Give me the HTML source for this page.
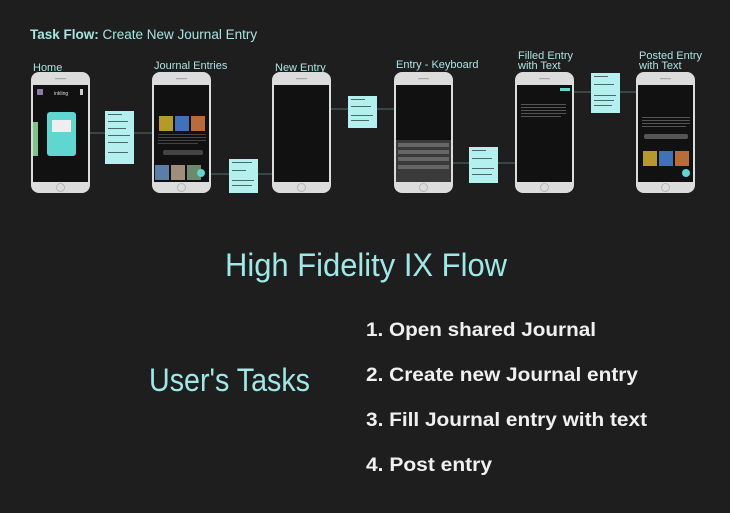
<!DOCTYPE html>
<html><head><meta charset="utf-8"><style>
html,body{margin:0;padding:0;background:#1e1e1e;}
svg{display:block}
</style></head><body>
<svg width="730" height="513" viewBox="0 0 730 513" xmlns="http://www.w3.org/2000/svg" font-family="Liberation Sans, sans-serif">
<defs>
<g id="ph">
<rect x="0" y="0" width="59" height="121" rx="8" fill="#dcdcdc"/>
<rect x="2" y="13" width="55" height="97" fill="#111"/>
<circle cx="29.5" cy="115.5" r="4" fill="none" stroke="#b0b0b0" stroke-width="0.8"/>
<rect x="24" y="6" width="11" height="1.2" fill="#aaa"/>
</g>
</defs>
<rect width="730" height="513" fill="#1e1e1e"/>
<text x="30" y="39" font-size="13.5" fill="#a8e4e2"><tspan font-weight="bold">Task Flow:</tspan> Create New Journal Entry</text>
<g font-size="11" fill="#a8e4e2">
<text x="33" y="71">Home</text>
<text x="154" y="69">Journal Entries</text>
<text x="275" y="71">New Entry</text>
<text x="396" y="68">Entry - Keyboard</text>
<text x="518" y="59">Filled Entry</text><text x="518" y="69">with Text</text>
<text x="639" y="59">Posted Entry</text><text x="639" y="69">with Text</text>
</g>
<g stroke="#52706f" stroke-width="1" fill="none">
<line x1="76" y1="133" x2="152" y2="133"/>
<line x1="205" y1="174" x2="272" y2="174"/>
<line x1="292" y1="109" x2="394" y2="109"/>
<line x1="420" y1="163" x2="515" y2="163"/>
<line x1="570" y1="92" x2="636" y2="92"/>
</g>
<use href="#ph" x="31" y="72"/>
<use href="#ph" x="152" y="72"/>
<use href="#ph" x="272" y="72"/>
<use href="#ph" x="394" y="72"/>
<use href="#ph" x="515" y="72"/>
<use href="#ph" x="636" y="72"/>
<rect x="47" y="112" width="29" height="44" rx="3" fill="#5fd6cf"/>
<rect x="52" y="120" width="19" height="12" fill="#eee"/>
<rect x="33" y="122" width="5" height="34" fill="#7bc48a"/>
<rect x="37" y="89" width="6" height="6" fill="#8a7aa8"/>
<text x="54" y="95" font-size="5" fill="#ddd">inkling</text>
<rect x="80" y="89" width="3" height="6" fill="#ccc"/>
<g fill="#444">
<rect x="159" y="116" width="14" height="15" fill="#b59a2a"/><rect x="175" y="116" width="14" height="15" fill="#3f72b8"/><rect x="191" y="116" width="14" height="15" fill="#b76c3a"/>
<rect x="158" y="134" width="48" height="1"/><rect x="158" y="137" width="48" height="1"/><rect x="158" y="140" width="48" height="1"/><rect x="158" y="143" width="40" height="1"/>
<rect x="163" y="150" width="40" height="5" rx="2"/>
<rect x="155" y="165" width="14" height="15" fill="#5a7ea8"/><rect x="171" y="165" width="14" height="15" fill="#a08d7a"/><rect x="187" y="165" width="14" height="15" fill="#6e8a6a"/>
</g>
<circle cx="201" cy="173" r="4" fill="#5fd6cf"/>
<rect x="396" y="140" width="55" height="42" fill="#3a3a3a"/>
<g fill="#666"><rect x="398" y="143" width="51" height="4"/><rect x="398" y="150" width="51" height="4"/><rect x="398" y="157" width="51" height="4"/><rect x="398" y="165" width="51" height="4"/></g>
<g fill="#555"><rect x="521" y="104" width="45" height="1"/><rect x="521" y="107" width="45" height="1"/><rect x="521" y="110" width="45" height="1"/><rect x="521" y="113" width="45" height="1"/><rect x="521" y="116" width="40" height="1"/></g>
<rect x="560" y="88" width="10" height="3" fill="#5fd6cf"/>
<g fill="#555"><rect x="642" y="117" width="48" height="1"/><rect x="642" y="120" width="48" height="1"/><rect x="642" y="123" width="48" height="1"/><rect x="642" y="126" width="44" height="1"/><rect x="644" y="134" width="44" height="5" rx="2"/></g>
<rect x="643" y="151" width="14" height="15" fill="#b59a2a"/><rect x="659" y="151" width="14" height="15" fill="#3f72b8"/><rect x="675" y="151" width="14" height="15" fill="#b76c3a"/>
<circle cx="686" cy="173" r="4" fill="#5fd6cf"/>
<g fill="#b3f0ee">
<rect x="105" y="111" width="29" height="53"/>
<rect x="229" y="159" width="29" height="34"/>
<rect x="348" y="96" width="29" height="32"/>
<rect x="469" y="147" width="29" height="36"/>
<rect x="591" y="73" width="29" height="40"/>
</g>
<g fill="#4a6a6a">
<rect x="108" y="114" width="14" height="1"/><rect x="108" y="121" width="20" height="1"/><rect x="108" y="128" width="18" height="1"/><rect x="108" y="135" width="22" height="1"/><rect x="108" y="142" width="20" height="1"/><rect x="108" y="152" width="20" height="1"/>
<rect x="232" y="162" width="20" height="1"/><rect x="232" y="170" width="14" height="1"/><rect x="232" y="180" width="22" height="1"/><rect x="232" y="185" width="20" height="1"/>
<rect x="351" y="99" width="14" height="1"/><rect x="351" y="106" width="20" height="1"/><rect x="351" y="115" width="22" height="1"/><rect x="351" y="120" width="18" height="1"/>
<rect x="472" y="150" width="14" height="1"/><rect x="472" y="158" width="20" height="1"/><rect x="472" y="168" width="22" height="1"/><rect x="472" y="174" width="20" height="1"/>
<rect x="594" y="76" width="14" height="1"/><rect x="594" y="84" width="20" height="1"/><rect x="594" y="95" width="22" height="1"/><rect x="594" y="100" width="20" height="1"/><rect x="594" y="105" width="18" height="1"/>
</g>
<text x="225" y="276" font-size="32" fill="#9ee8e6" textLength="282" lengthAdjust="spacingAndGlyphs" font-family="Liberation Sans Narrow, Liberation Sans, sans-serif">High Fidelity IX Flow</text>
<text x="149" y="391" font-size="32" fill="#9ee8e6" textLength="161" lengthAdjust="spacingAndGlyphs" font-family="Liberation Sans Narrow, Liberation Sans, sans-serif">User's Tasks</text>
<g font-size="19" fill="#f0f0f0" font-weight="bold">
<text x="366" y="336" textLength="230" lengthAdjust="spacingAndGlyphs">1. Open shared Journal</text>
<text x="366" y="381" textLength="272" lengthAdjust="spacingAndGlyphs">2. Create new Journal entry</text>
<text x="366" y="426" textLength="281" lengthAdjust="spacingAndGlyphs">3. Fill Journal entry with text</text>
<text x="366" y="471" textLength="126" lengthAdjust="spacingAndGlyphs">4. Post entry</text>
</g>
</svg>
</body></html>
